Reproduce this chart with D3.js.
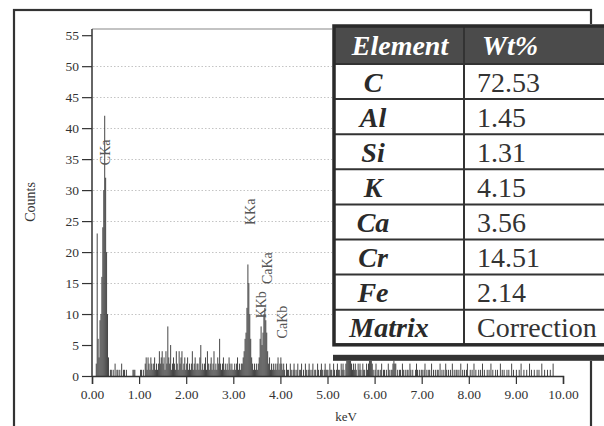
<!DOCTYPE html>
<html>
<head>
<meta charset="utf-8">
<script src="https://cdn.jsdelivr.net/npm/d3@7"></script>
<style>
  body { margin: 0; background: #fff; }
  svg { display: block; }
</style>
</head>
<body>
<svg id="chart"></svg>
<script>
var w = 604, h = 426;

// spectrum: counts per 0.02 keV channel, 0.00 .. 9.98 keV (one line per keV)
var channelWidth = 0.02;
var counts = [
  0,0,0,0,2,23,6,3,9,10, 16,24,30,42,32,20,10,3,0,1, 1,0,1,0,2,0,1,1,0,1, 0,2,0,1,1,0,1,0,0,0, 0,0,0,1,1,1,0,0,0,0,
  0,1,1,0,1,0,2,3,1,3, 2,1,3,2,1,2,3,1,2,1, 2,4,2,3,4,2,3,1,4,2, 8,3,2,5,1,2,3,2,1,4, 2,1,4,2,3,4,1,2,3,1,
  2,3,1,2,1,2,4,1,2,3, 1,2,2,1,3,5,1,2,1,2, 3,1,4,2,1,2,3,1,2,4, 1,2,1,3,2,6,2,1,2,3, 1,2,1,2,1,3,2,1,2,1,
  1,2,1,2,3,1,2,1,2,2, 3,4,6,7,11,18,15,10,6,3, 2,1,2,1,2,1,2,3,6,8, 5,7,10,11,9,7,4,2,3,1, 2,1,2,1,2,1,2,3,1,2,
  3,2,1,2,1,0,2,1,1,0, 2,1,0,1,2,1,0,1,2,0, 1,1,2,0,1,0,2,1,0,1, 2,1,0,1,2,0,1,1,0,2, 1,0,1,2,1,0,1,2,1,1,
  1,0,2,1,1,0,2,1,0,1, 2,1,1,0,2,1,2,1,0,2, 4,8,12,9,4,2,1,2,1,2, 1,0,2,1,2,1,0,2,1,1, 0,2,1,2,3,4,3,2,1,0,
  1,2,0,1,1,0,1,2,0,1, 1,0,1,0,2,1,0,1,1,2, 3,2,2,0,1,0,1,1,0,2, 1,0,1,0,1,1,0,2,1,0, 1,0,0,1,2,1,0,1,0,1,
  1,0,1,2,0,1,0,1,1,0, 2,0,1,0,1,0,1,1,0,2, 0,1,0,1,0,2,1,0,1,0, 1,0,2,0,1,0,1,1,0,1, 0,2,0,1,0,1,0,1,2,0,
  0,1,0,1,0,2,0,1,0,0, 1,0,1,0,2,0,1,0,0,1, 0,1,0,2,0,1,0,0,1,0, 1,0,0,2,0,1,0,1,0,0, 1,0,1,0,0,2,0,1,0,0,
  1,0,0,1,0,2,0,0,1,0, 0,1,0,0,2,0,1,0,0,1, 0,0,1,0,1,0,0,2,0,0, 1,0,0,1,0,0,1,0,0,2, 0,0,0,0,0,0,0,0,0,0
];

var xTicks = [0,1,2,3,4,5,6,7,8,9,10];
var yTicks = [0,5,10,15,20,25,30,35,40,45,50,55];
var gridTicks = [10,15,20,25,30,35,40,45,50];

var peakNames = ["CKa", "KKa", "KKb", "CaKa", "CaKb"];
var peakKeV = [0.28, 3.36, 3.60, 3.72, 4.04];
var peakLabelCounts = [36.1, 26.5, 11.5, 17.4, 8.7];

var elements = ["C", "Al", "Si", "K", "Ca", "Cr", "Fe", "Matrix"];
var wtPct = ["72.53", "1.45", "1.31", "4.15", "3.56", "14.51", "2.14", "Correction"];

var serif = "'Liberation Serif', 'Times New Roman', serif";

var svg = d3.select("#chart").attr("width", w).attr("height", h);

var x = d3.scaleLinear().domain([0, 10]).range([92, 563]);
var y = d3.scaleLinear().domain([0, 56]).range([376, 29]);

// outer frame
svg.append("rect")
  .attr("x", 14).attr("y", 10).attr("width", 577).attr("height", 440)
  .attr("fill", "none").attr("stroke", "#333").attr("stroke-width", 2.2);

// dotted grid
svg.append("g").selectAll("line")
  .data(gridTicks)
  .enter()
  .append("line")
  .attr("x1", 93).attr("x2", 600)
  .attr("y1", function(d){ return Math.round(y(d)) + 0.5; })
  .attr("y2", function(d){ return Math.round(y(d)) + 0.5; })
  .attr("stroke", "#c4c4c4").attr("stroke-width", 1)
  .attr("stroke-dasharray", "1.5,2");

// top line of plot
svg.append("line")
  .attr("x1", x(0)).attr("x2", 600)
  .attr("y1", y(56)).attr("y2", y(56))
  .attr("stroke", "#888").attr("stroke-width", 1.2);

// spectrum bars
svg.append("g").selectAll("rect")
  .data(counts)
  .enter()
  .append("rect")
  .attr("x", function(d, i){ return x(i * channelWidth); })
  .attr("y", function(d){ return y(d); })
  .attr("width", x(channelWidth) - x(0))
  .attr("height", function(d){ return y(0) - y(d); })
  .attr("fill", "#3c3c3c");

// axes
var xAxis = d3.axisBottom(x).tickValues(xTicks).tickSize(8).tickPadding(5)
  .tickFormat(d3.format(".2f"));
var yAxis = d3.axisLeft(y).tickValues(yTicks).tickSize(10).tickPadding(3);

var gx = svg.append("g").attr("transform", "translate(0," + y(0) + ")").call(xAxis);
var gy = svg.append("g").attr("transform", "translate(" + x(0) + ",0)").call(yAxis);

[gx, gy].forEach(function(g){
  g.select(".domain").attr("stroke", "#333").attr("stroke-width", 1.5);
  g.selectAll(".tick line").attr("stroke", "#333").attr("stroke-width", 1.2);
  g.selectAll(".tick text").attr("fill", "#333")
    .attr("font-family", serif).attr("font-size", "13.5px");
});
gy.select(".domain").attr("d", "M0," + y(0) + "V" + y(56));

// axis titles
svg.append("text")
  .text("keV")
  .attr("x", 346).attr("y", 421)
  .attr("text-anchor", "middle")
  .attr("font-family", serif).attr("font-size", "13px").attr("fill", "#333");

svg.append("text")
  .text("Counts")
  .attr("transform", "translate(30,202) rotate(-90)")
  .attr("text-anchor", "middle").attr("dominant-baseline", "central")
  .attr("font-family", serif).attr("font-size", "14px").attr("fill", "#333");

// peak labels
svg.append("g").selectAll("text")
  .data(peakNames)
  .enter()
  .append("text")
  .text(function(d){ return d; })
  .attr("transform", function(d, i){
    return "translate(" + x(peakKeV[i]) + "," + y(peakLabelCounts[i]) + ") rotate(-90)";
  })
  .attr("text-anchor", "middle").attr("dominant-baseline", "central")
  .attr("font-family", serif).attr("font-size", "14px").attr("fill", "#555");

// results table
var tLeft = 334, tTop = 26, tRight = 660, tDiv = 464;
var headH = 38, rowH = 35.1;
var tBottom = tTop + headH + rowH * elements.length;

svg.append("rect")
  .attr("x", tLeft - 2).attr("y", tTop - 2)
  .attr("width", tRight - tLeft).attr("height", tBottom - tTop + 18)
  .attr("fill", "#fff");

svg.append("rect")
  .attr("x", tLeft).attr("y", tTop)
  .attr("width", tRight - tLeft).attr("height", headH)
  .attr("fill", "#4b4b4b");

// shadow bar under table
svg.append("rect")
  .attr("x", tLeft - 1).attr("y", tBottom + 10)
  .attr("width", tRight - tLeft).attr("height", 6)
  .attr("fill", "#333");

var rows = svg.append("g").selectAll("g")
  .data(elements)
  .enter()
  .append("g")
  .attr("transform", function(d, i){ return "translate(0," + (tTop + headH + i * rowH) + ")"; });

rows.append("line")
  .attr("x1", tLeft).attr("x2", tRight)
  .attr("y1", 0).attr("y2", 0)
  .attr("stroke", "#333").attr("stroke-width", 2);

rows.append("text")
  .text(function(d){ return d; })
  .attr("x", function(d, i){ return i == elements.length - 1 ? 389 : 373; })
  .attr("y", rowH / 2 + 10)
  .attr("text-anchor", "middle")
  .attr("font-family", serif).attr("font-size", "28px")
  .attr("font-weight", "bold").attr("font-style", "italic")
  .attr("fill", "#2a2a2a");

rows.append("text")
  .text(function(d, i){ return wtPct[i]; })
  .attr("x", 477)
  .attr("y", rowH / 2 + 10)
  .attr("font-family", serif).attr("font-size", "28px")
  .attr("fill", "#333");

// header text
svg.append("text")
  .text("Element")
  .attr("x", 400).attr("y", tTop + 29)
  .attr("text-anchor", "middle")
  .attr("font-family", serif).attr("font-size", "28px")
  .attr("font-weight", "bold").attr("font-style", "italic")
  .attr("fill", "#fff");

svg.append("text")
  .text("Wt%")
  .attr("x", 482).attr("y", tTop + 29)
  .attr("font-family", serif).attr("font-size", "28px")
  .attr("font-weight", "bold").attr("font-style", "italic")
  .attr("fill", "#fff");

// table borders
svg.append("line")
  .attr("x1", tDiv).attr("x2", tDiv)
  .attr("y1", tTop).attr("y2", tBottom)
  .attr("stroke", "#333").attr("stroke-width", 2);

svg.append("rect")
  .attr("x", tLeft).attr("y", tTop)
  .attr("width", tRight - tLeft).attr("height", tBottom - tTop)
  .attr("fill", "none").attr("stroke", "#2a2a2a").attr("stroke-width", 3.5);
</script>
</body>
</html>
